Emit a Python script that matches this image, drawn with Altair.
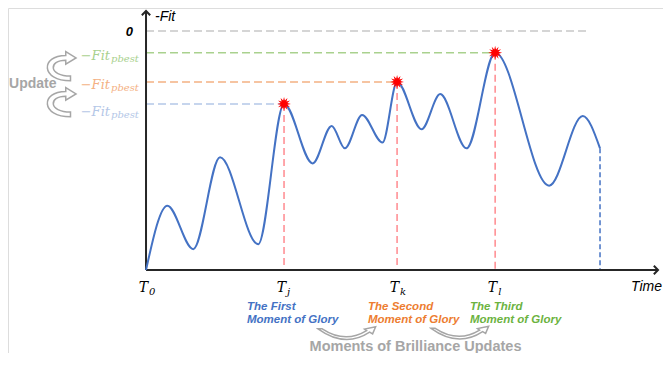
import math
import altair as alt
import pandas as pd

# ---------------- data ----------------
# fitness curve: time (0..100) vs -Fit (baseline -100, top line 0)
time_pts = [0, 4.7, 10.4, 16.3, 24.7, 30.4, 36.7, 40.9, 43.8, 47.6, 52.1,
            55.3, 60.7, 64.8, 70.6, 76.9, 88.8, 96.2, 100]
fit_pts = [-100, -73.1, -91.3, -52.8, -89.2, -30.5, -55.4, -39.7, -49.1, -35.1,
           -46.7, -21.3, -41.1, -26.4, -49.1, -9.1, -64.7, -35.6, -49.1]

moment_times = [30.4, 55.3, 76.9]
moment_fits = [-30.5, -21.3, -9.1]
moment_text1 = ["The First", "The Second", "The Third"]
moment_text2 = ["Moment of Glory", "Moment of Glory", "Moment of Glory"]

tick_subs = ["0", "j", "k", "l"]
tick_times = [0] + moment_times

zero_level = 0
zero_end = 97.6
baseline = -100
end_time = 100
end_fit = -49.1

# ---------------- styling / layout helpers ----------------
W, H = 655, 345
PX_T, PX_V = 4.54, 2.39          # pixels per unit
X_DOM = [-30.40, -30.40 + W / PX_T]
Y_DOM = [9.62 - H / PX_V, 9.62]
xs = alt.Scale(domain=X_DOM, nice=False, zero=False)
ys = alt.Scale(domain=Y_DOM, nice=False, zero=False)


def tx(px):  # page pixel -> time units (annotation placement)
    return (px - 146) / PX_T


def vy(py):  # page pixel -> fitness units (annotation placement)
    return 9.62 - (py - 8) / PX_V


def X(f="x"):
    return alt.X(f, type="quantitative", scale=xs, axis=None)


def Y(f="y"):
    return alt.Y(f, type="quantitative", scale=ys, axis=None)


BLUE, ORANGE, GREEN = "#4472c4", "#ed7d31", "#6cb33f"
LIGHT = ["#b4c7e7", "#f4b183", "#a9d18e"]
MOMENT_COL = [BLUE, ORANGE, GREEN]
GRAY = "#a6a6a6"
AXIS = "#262626"
RED_DASH = "#ff8a8f"

layers = []

# dashed reference lines (horizontal)
h = pd.DataFrame({
    "x": [0, 0, 0, 0],
    "x2": [zero_end] + moment_times,
    "y": [zero_level] + moment_fits,
    "c": ["#c8c8c8"] + LIGHT,
})
layers.append(alt.Chart(h).mark_rule(strokeDash=[8, 4], strokeWidth=1.5).encode(
    x=X("x"), x2="x2", y=Y("y"), color=alt.Color("c:N", scale=None)))

# dashed verticals from the stars to the time axis
v = pd.DataFrame({"x": moment_times, "y": moment_fits, "y2": [baseline] * 3})
layers.append(alt.Chart(v).mark_rule(strokeDash=[7, 4], strokeWidth=1.5, color=RED_DASH).encode(
    x=X("x"), y=Y("y"), y2="y2"))
ve = pd.DataFrame({"x": [end_time], "y": [end_fit], "y2": [baseline]})
layers.append(alt.Chart(ve).mark_rule(strokeDash=[5, 3], strokeWidth=1.5, color=BLUE).encode(
    x=X("x"), y=Y("y"), y2="y2"))

# axes (lines + arrow heads)
ax = pd.DataFrame({"x": [0, 0], "x2": [0, tx(658)], "y": [baseline, baseline], "y2": [vy(11), baseline]})
layers.append(alt.Chart(ax).mark_rule(color=AXIS, strokeWidth=2).encode(
    x=X("x"), x2="x2", y=Y("y"), y2="y2"))
layers.append(alt.Chart(pd.DataFrame({"x": [0], "y": [vy(11)]})).mark_point(
    shape="M-1,1L0,0L1,1", filled=False, color=AXIS, strokeWidth=2, size=70, opacity=1).encode(
    x=X("x"), y=Y("y")))
layers.append(alt.Chart(pd.DataFrame({"x": [tx(658)], "y": [baseline]})).mark_point(
    shape="M-1,-1L0,0L-1,1", filled=False, color=AXIS, strokeWidth=2, size=70, opacity=1).encode(
    x=X("x"), y=Y("y")))

# fitness curve
curve = pd.DataFrame({"x": time_pts, "y": fit_pts})
layers.append(alt.Chart(curve).mark_line(interpolate="monotone", color=BLUE, strokeWidth=2).encode(
    x=X("x"), y=Y("y")))

# stars
pts = []
for i in range(24):
    r = 1.0 if i % 2 == 0 else 0.5
    a = i * math.pi / 12
    pts.append(f"{r * math.sin(a):.3f},{-r * math.cos(a):.3f}")
STAR = "M" + "L".join(pts) + "Z"
stars = pd.DataFrame({"x": moment_times, "y": moment_fits})
layers.append(alt.Chart(stars).mark_point(shape=STAR, filled=True, color="#ff0000", size=190, opacity=1).encode(
    x=X("x"), y=Y("y")))

SERIF = "DejaVu Serif"
SANS = "Liberation Sans"

# tick labels T0, Tj, Tk, Tl
tl = pd.DataFrame({"x": tick_times, "y": [vy(292)] * 4, "t": ["T"] * 4})
layers.append(alt.Chart(tl).mark_text(font=SERIF, fontStyle="italic", fontSize=14, align="right",
                                      baseline="alphabetic", dx=2, color="#000").encode(
    x=X("x"), y=Y("y"), text="t:N"))
ts = pd.DataFrame({"x": tick_times, "y": [vy(294.5)] * 4, "t": tick_subs})
layers.append(alt.Chart(ts).mark_text(font=SERIF, fontStyle="italic", fontSize=10, align="left",
                                      baseline="alphabetic", dx=3, color="#000").encode(
    x=X("x"), y=Y("y"), text="t:N"))

# axis titles and 0
layers.append(alt.Chart(pd.DataFrame({"x": [tx(155)], "y": [vy(10)], "t": ["-Fit"]})).mark_text(
    font=SANS, fontStyle="italic", fontSize=14, align="left", baseline="top", color="#000").encode(
    x=X("x"), y=Y("y"), text="t:N"))
layers.append(alt.Chart(pd.DataFrame({"x": [tx(662)], "y": [vy(291)], "t": ["Time"]})).mark_text(
    font=SANS, fontStyle="italic", fontSize=14, align="right", baseline="alphabetic", color="#000").encode(
    x=X("x"), y=Y("y"), text="t:N"))
layers.append(alt.Chart(pd.DataFrame({"x": [tx(133)], "y": [vy(36)], "t": ["0"]})).mark_text(
    font=SANS, fontStyle="italic", fontWeight="bold", fontSize=13, align="right",
    baseline="alphabetic", color="#000").encode(x=X("x"), y=Y("y"), text="t:N"))

# -Fit_pbest labels
fit_base = [116, 89, 60]
pl = pd.DataFrame({"x": [tx(110)] * 3, "y": [vy(b) for b in fit_base], "t": ["\u2212Fit"] * 3, "c": LIGHT})
layers.append(alt.Chart(pl).mark_text(font=SERIF, fontStyle="italic", fontSize=13, align="right",
                                      baseline="alphabetic").encode(
    x=X("x"), y=Y("y"), text="t:N", color=alt.Color("c:N", scale=None)))
ps = pd.DataFrame({"x": [tx(110)] * 3, "y": [vy(b + 2) for b in fit_base], "t": ["pbest"] * 3, "c": LIGHT})
layers.append(alt.Chart(ps).mark_text(font=SERIF, fontStyle="italic", fontSize=10, align="left",
                                      baseline="alphabetic", dx=1).encode(
    x=X("x"), y=Y("y"), text="t:N", color=alt.Color("c:N", scale=None)))

# Update label and arrows
layers.append(alt.Chart(pd.DataFrame({"x": [tx(9)], "y": [vy(88)], "t": ["Update"]})).mark_text(
    font=SANS, fontWeight="bold", fontSize=14, align="left", baseline="alphabetic", color=GRAY).encode(
    x=X("x"), y=Y("y"), text="t:N"))
UPD = "M0.6,1C-1.3,1,-1.3,-0.6,0.3,-0.6L0.3,-0.85L0.95,-0.45L0.3,-0.05L0.3,-0.3C-0.8,-0.3,-0.8,0.7,0.6,0.7Z"
ua = pd.DataFrame({"x": [tx(61), tx(61)], "y": [vy(65), vy(101)]})
layers.append(alt.Chart(ua).mark_point(shape=UPD, filled=True, fill="white", stroke=GRAY, strokeWidth=1.5,
                                       size=1000, opacity=1).encode(x=X("x"), y=Y("y")))

# moment descriptions
left_px = [247, 368, 470]
m1 = pd.DataFrame({"x": [tx(p) for p in left_px], "y": [vy(310)] * 3, "t": moment_text1, "c": MOMENT_COL})
m2 = pd.DataFrame({"x": [tx(p) for p in left_px], "y": [vy(322.5)] * 3, "t": moment_text2, "c": MOMENT_COL})
for m in (m1, m2):
    layers.append(alt.Chart(m).mark_text(font=SANS, fontStyle="italic", fontWeight="bold", fontSize=11.5,
                                         align="left", baseline="alphabetic").encode(
        x=X("x"), y=Y("y"), text="t:N", color=alt.Color("c:N", scale=None)))

BOT = "M-1,-0.19Q-0.1,0.46,0.72,-0.08L0.82,-0.02L0.92,-0.26L0.55,-0.18L0.62,-0.13Q-0.1,0.31,-0.86,-0.19Z"
ba = pd.DataFrame({"x": [tx(348), tx(461)], "y": [vy(334.5), vy(334)]})
layers.append(alt.Chart(ba).mark_point(shape=BOT, filled=True, fill="white", stroke=GRAY, strokeWidth=1.5,
                                       size=3600, opacity=1).encode(x=X("x"), y=Y("y")))
layers.append(alt.Chart(pd.DataFrame({"x": [tx(415.5)], "y": [vy(350.5)], "t": ["Moments of Brilliance Updates"]})).mark_text(
    font=SANS, fontWeight="bold", fontSize=14.5, align="center", baseline="alphabetic", color=GRAY).encode(
    x=X("x"), y=Y("y"), text="t:N"))

chart = alt.layer(*layers).properties(
    width=W, height=H, padding=0, autosize=alt.AutoSizeParams(type="none")
).configure_view(stroke="transparent", strokeWidth=0).configure(background="white")

chart.save("out.html", embed_options={"renderer": "svg", "actions": False})
